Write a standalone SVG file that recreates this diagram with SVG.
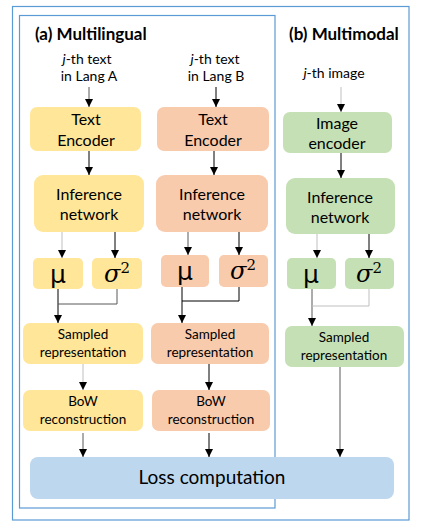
<svg xmlns="http://www.w3.org/2000/svg" width="432" height="527" viewBox="0 0 432 527">
<style>
.t{font-family:Lato,"Open Sans",sans-serif;fill:#000;text-anchor:middle}
.n{font-size:16px}
.s{font-size:13.5px}
.i{font-size:14px}
.h{font-size:17px;font-weight:bold;text-anchor:start}
.m{font-family:"DejaVu Serif",serif;font-size:24px;text-anchor:middle}
.u{font-family:"DejaVu Sans",sans-serif;font-size:25px;text-anchor:middle}
.y{fill:#FFE699}
.p{fill:#F8CBAD}
.g{fill:#C5E0B4}
.c{fill:none;stroke-width:1}
.k{stroke:#000}
.d{stroke:#595959}
.l{stroke:#BFBFBF}
</style>
<defs>
<marker id="a" markerUnits="userSpaceOnUse" markerWidth="8" markerHeight="8" viewBox="0 0 8 8" refX="8" refY="4" orient="auto">
<path d="M0,0 L8,4 L0,8 z" fill="#000"/>
</marker>
</defs>
<rect x="12.5" y="6.5" width="396.5" height="513.5" fill="#fff" stroke="#5B9BD5" stroke-width="1.2"/>
<rect x="19.5" y="15.5" width="255.5" height="492.5" fill="none" stroke="#5B9BD5" stroke-width="1.2"/>
<text class="t h" x="35" y="40">(a) Multilingual</text>
<text class="t h" x="289" y="40">(b) Multimodal</text>
<g id="inA"><text class="t i" x="87" y="64"><tspan font-style="italic">j</tspan>-th text</text><text class="t i" x="89" y="81">in Lang A</text></g>
<g id="inB"><text class="t i" x="215" y="64"><tspan font-style="italic">j</tspan>-th text</text><text class="t i" x="216" y="81">in Lang B</text></g>
<g id="inC"><text class="t i" x="334" y="78"><tspan font-style="italic">j</tspan>-th image</text></g>
<g id="encA"><rect class="y" x="30" y="107" width="111" height="44" rx="7"/><text class="t n" x="86" y="125">Text</text><text class="t n" x="86" y="146">Encoder</text></g>
<g id="encB"><rect class="p" x="157" y="107" width="112" height="44" rx="7"/><text class="t n" x="213" y="125">Text</text><text class="t n" x="213" y="146">Encoder</text></g>
<g id="encC"><rect class="g" x="283" y="112" width="109" height="41" rx="7"/><text class="t n" x="337" y="129">Image</text><text class="t n" x="337" y="149">encoder</text></g>
<g id="infA"><rect class="y" x="34" y="175" width="110" height="57" rx="9"/><text class="t n" x="89" y="200">Inference</text><text class="t n" x="89" y="220">network</text></g>
<g id="infB"><rect class="p" x="156" y="175" width="112" height="57" rx="9"/><text class="t n" x="212" y="200">Inference</text><text class="t n" x="212" y="220">network</text></g>
<g id="infC"><rect class="g" x="286" y="178" width="109" height="56" rx="9"/><text class="t n" x="340" y="203">Inference</text><text class="t n" x="340" y="223">network</text></g>
<g id="muA"><rect class="y" x="33" y="258" width="50" height="31" rx="5"/><text class="u" x="58" y="283">μ</text></g>
<g id="sgA"><rect class="y" x="92" y="258" width="50" height="31" rx="5"/><text class="m" x="117" y="282"><tspan font-style="italic">σ</tspan><tspan font-size="15" dy="-9">2</tspan></text></g>
<g id="muB"><rect class="p" x="161" y="255" width="48" height="32" rx="5"/><text class="u" x="185" y="280">μ</text></g>
<g id="sgB"><rect class="p" x="219" y="255" width="49" height="32" rx="5"/><text class="m" x="243" y="279"><tspan font-style="italic">σ</tspan><tspan font-size="15" dy="-9">2</tspan></text></g>
<g id="muC"><rect class="g" x="287" y="258" width="49" height="31" rx="5"/><text class="u" x="311" y="283">μ</text></g>
<g id="sgC"><rect class="g" x="345" y="258" width="49" height="31" rx="5"/><text class="m" x="369" y="282"><tspan font-style="italic">σ</tspan><tspan font-size="15" dy="-9">2</tspan></text></g>
<g id="smA"><rect class="y" x="23" y="323" width="120" height="41" rx="7"/><text class="t s" x="83" y="339">Sampled</text><text class="t s" x="83" y="357">representation</text></g>
<g id="smB"><rect class="p" x="151" y="323" width="118" height="41" rx="7"/><text class="t s" x="210" y="339">Sampled</text><text class="t s" x="210" y="357">representation</text></g>
<g id="smC"><rect class="g" x="285" y="326" width="119" height="41" rx="7"/><text class="t s" x="344" y="342">Sampled</text><text class="t s" x="344" y="360">representation</text></g>
<g id="bowA"><rect class="y" x="23" y="390" width="120" height="41" rx="7"/><text class="t s" x="83" y="406">BoW</text><text class="t s" x="83" y="424">reconstruction</text></g>
<g id="bowB"><rect class="p" x="152" y="390" width="118" height="41" rx="7"/><text class="t s" x="211" y="406">BoW</text><text class="t s" x="211" y="424">reconstruction</text></g>
<g id="loss"><rect fill="#BDD7EE" x="30" y="457" width="364" height="42" rx="8"/><text class="t" font-size="19" x="212" y="484">Loss computation</text></g>
<g id="connectors">
<path class="c d" d="M89,87 V107" marker-end="url(#a)"/>
<path class="c k" d="M216,87 V107" marker-end="url(#a)"/>
<path class="c l" d="M341,87 V112" marker-end="url(#a)"/>
<path class="c k" d="M89,151 V175" marker-end="url(#a)"/>
<path class="c k" d="M214,151 V175" marker-end="url(#a)"/>
<path class="c k" d="M341,153 V178" marker-end="url(#a)"/>
<path class="c l" d="M62,232 V258" marker-end="url(#a)"/>
<path class="c k" d="M115,232 V258" marker-end="url(#a)"/>
<path class="c d" d="M188,232 V255" marker-end="url(#a)"/>
<path class="c k" d="M239,232 V255" marker-end="url(#a)"/>
<path class="c l" d="M317,234 V258" marker-end="url(#a)"/>
<path class="c k" d="M369,234 V258" marker-end="url(#a)"/>
<path class="c k" d="M58,289 V323" marker-end="url(#a)"/>
<path class="c d" d="M117,289 V304 H58"/>
<path class="c k" d="M182,287 V323" marker-end="url(#a)"/>
<path class="c k" d="M239,287 V301 H182"/>
<path class="c d" d="M312,289 V326" marker-end="url(#a)"/>
<path class="c l" d="M369,289 V306 H312"/>
<path class="c l" d="M83,364 V390" marker-end="url(#a)"/>
<path class="c k" d="M209,364 V390" marker-end="url(#a)"/>
<path class="c d" d="M83,433 V457" marker-end="url(#a)"/>
<path class="c k" d="M209,433 V457" marker-end="url(#a)"/>
<path class="c d" d="M340,367 V457" marker-end="url(#a)"/>
</g>
</svg>
